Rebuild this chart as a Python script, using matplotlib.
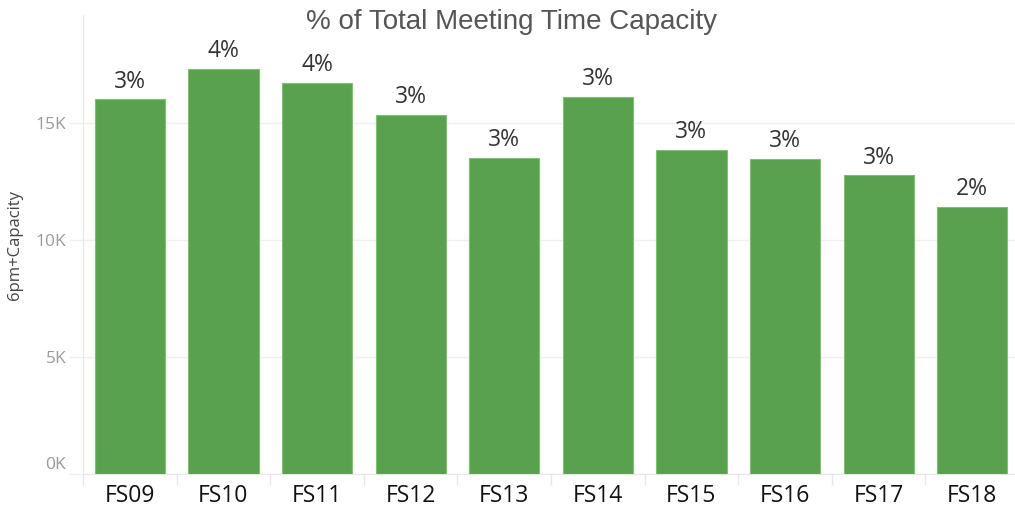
import matplotlib
matplotlib.use("Agg")
import matplotlib.pyplot as plt
import matplotlib.transforms as mtransforms
import numpy as np

categories = ["FS09", "FS10", "FS11", "FS12", "FS13", "FS14", "FS15", "FS16", "FS17", "FS18"]
capacity = [16010, 17310, 16700, 15340, 13500, 16110, 13850, 13450, 12760, 11400]
pct_labels = ["3%", "4%", "4%", "3%", "3%", "3%", "3%", "3%", "3%", "2%"]
yticks = [0, 5000, 10000, 15000]
ytick_labels = ["0K", "5K", "10K", "15K"]

fig = plt.figure(figsize=(10.15, 5.08), dpi=100)
ax = fig.add_axes([83/1015, 34/508, 936/1015, 459/508])
x = np.arange(len(categories))
bars = ax.bar(x, capacity, width=0.75, color="#59a14f", edgecolor="#7fbf74", linewidth=0.8, zorder=3)
ax.set_xlim(-0.5, 9.5)
ax.set_ylim(0, 19600)

for xi, v, lab in zip(x, capacity, pct_labels):
    ax.annotate(lab, (xi, v), xytext=(0, 4), textcoords="offset points",
                ha="center", va="bottom", fontsize=16.5, color="#333333", family="Open Sans")

ax.set_yticks(yticks)
ax.set_yticklabels(ytick_labels, fontsize=12.5, color="#9a9a9a", family="Open Sans")
ax.set_xticks(x)
ax.set_xticklabels(categories, fontsize=16.5, color="#111111", family="Open Sans", fontweight="medium")
ax.set_xticks(np.arange(-0.5, 10, 1), minor=True)
ax.tick_params(axis="x", which="major", length=0, pad=7)
ax.tick_params(axis="x", which="minor", length=8, color="#e6e6e6", width=1)
ax.tick_params(axis="y", length=10, color="#eeeeee", width=1, pad=2)
ax.grid(axis="y", color="#efefef", linewidth=1, zorder=0)

# lift the "0K" label above the baseline as in the reference
lbl0 = ax.get_yticklabels()[0]
lbl0.set_transform(lbl0.get_transform() + mtransforms.ScaledTranslation(0, 11/100, fig.dpi_scale_trans))

for s in ["top", "right"]:
    ax.spines[s].set_visible(False)
ax.spines["left"].set_color("#e6e6e6")
ax.spines["bottom"].set_color("#e6e6e6")

ax.set_ylabel("6pm+Capacity", fontsize=12, color="#444444", family="Open Sans")
ax.yaxis.set_label_coords(-(83 - 23) / 936, 0.5)

fig.text(511/1015, 1 - 22/508, "% of Total Meeting Time Capacity", ha="center", va="center",
         fontsize=20, color="#555555", family="Liberation Sans")

fig.savefig("out.png", dpi=100)
